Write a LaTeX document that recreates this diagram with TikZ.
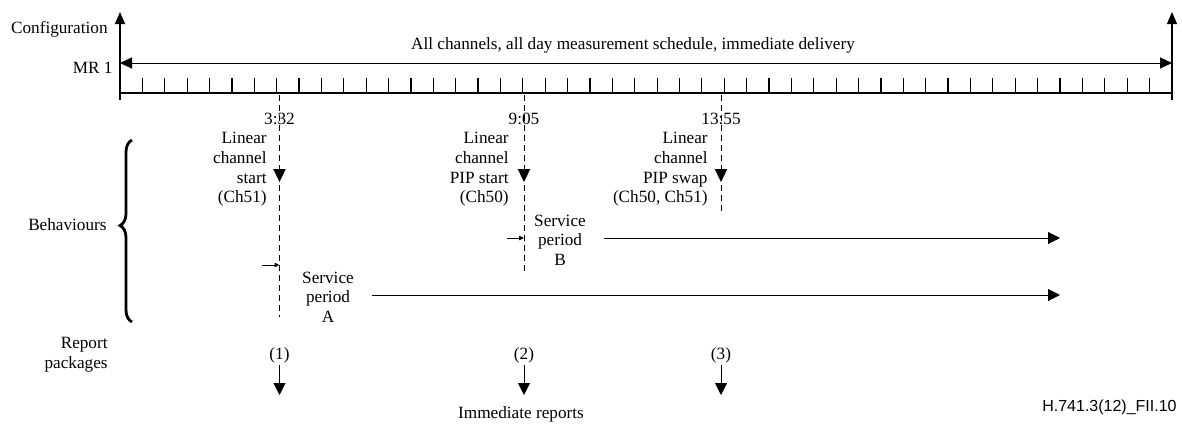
\documentclass[tikz,border=0pt]{standalone}
\usepackage{fontspec}
\setmainfont{Liberation Serif}
\newfontfamily\figfont{Liberation Sans}
\usetikzlibrary{arrows.meta,positioning,decorations.pathreplacing}

\begin{document}
\begin{tikzpicture}[
  x=0.5pt, y=-0.5pt,
  font=\fontsize{8.6}{9.8}\selectfont,
  every node/.style={inner sep=0pt},
  label/.style={align=right, anchor=east},
  evtlabel/.style={align=right, anchor=north east},
  period/.style={align=center},
  axis/.style={line width=0.6pt, -{Triangle[length=6pt,width=5pt]}},
  tickline/.style={line width=0.6pt},
  dblarrow/.style={line width=0.5pt, {Triangle[length=6pt,width=5.5pt]}-{Triangle[length=6pt,width=5.5pt]}},
  eventline/.style={line width=0.5pt, dash pattern=on 3pt off 2pt},
  longarrow/.style={line width=0.5pt, -{Triangle[length=6pt,width=6pt]}},
  startarrow/.style={line width=0.5pt, -{Triangle[length=2.5pt,width=2.2pt]}},
  reportarrow/.style={line width=0.5pt, -{Triangle[length=6pt,width=6pt]}},
  brace/.style={decorate, decoration={brace, amplitude=6pt, aspect=0.53}, line width=1.4pt}
]
\useasboundingbox (0,0) rectangle (1182,425);

\coordinate (axisL) at (120,100);
\coordinate (axisLtop) at (120,12);
\coordinate (axisR) at (1172,100);
\coordinate (axisRtop) at (1172,12);
\coordinate (rulerL) at (120,93);
\coordinate (rulerR) at (1172,93);
\coordinate (mrL) at (120,63);
\coordinate (mrR) at (1172,63);

\draw[axis] (axisL) -- (axisLtop);
\draw[axis] (axisR) -- (axisRtop);
\draw[tickline] (rulerL) -- (rulerR);
\foreach \k in {1,...,46}
  \draw[tickline] (120+\k*22.38,78) -- (120+\k*22.38,93);
\draw[dblarrow] (mrL) -- (mrR);

\node[label] (config) at (108,29) {Configuration};
\node[label] (mr) at (113,68) {MR 1};
\node (schedule) at (633,45) {All channels, all day measurement schedule, immediate delivery};
\node[label] (behav) at (107,225) {Behaviours};
\node[evtlabel] (reportlbl) at (108,337) {Report\\packages};

\coordinate (brB) at (132,322);
\coordinate (brT) at (132,140);
\draw[brace] (brB) -- (brT);

% events
\node (time1) at (279.5,119) {3:32};
\node (time2) at (524,119) {9:05};
\node (time3) at (721,119) {13:55};

\coordinate (e1top) at (279.5,95);
\coordinate (e1bot) at (279.5,317);
\coordinate (e2top) at (524,95);
\coordinate (e2bot) at (524,272);
\coordinate (e3top) at (721,95);
\coordinate (e3bot) at (721,212);
\draw[eventline] (e1top) -- (e1bot);
\draw[eventline] (e2top) -- (e2bot);
\draw[eventline] (e3top) -- (e3bot);

\foreach \x in {279.5,524,721}
  \fill (\x,182) -- ++(-6.3,-13) -- ++(12.6,0) -- cycle;

\node[evtlabel] (ev1) at (267,132) {Linear\\channel\\start\\(Ch51)};
\node[evtlabel] (ev2) at (509,132) {Linear\\channel\\PIP start\\(Ch50)};
\node[evtlabel] (ev3) at (708,132) {Linear\\channel\\PIP swap\\(Ch50, Ch51)};

% service periods
\node[period] (spA) at (328,297) {Service\\period\\A};
\node[period] (spB) at (560,240) {Service\\period\\B};

\coordinate (spAin) at (262,265);
\coordinate (spAstart) at (279.5,265);
\coordinate (spBin) at (507,238);
\coordinate (spBstart) at (524,238);
\coordinate (spAend) at (1060,295);
\coordinate (spBend) at (1060,238);

\draw[startarrow] (spAin) -- (spAstart);
\draw[startarrow] (spBin) -- (spBstart);
\draw[longarrow] (spA.east |- spAend) ++(18,0) coordinate (spAline) -- (spAend);
\draw[longarrow] (spB.east |- spBend) ++(18,0) coordinate (spBline) -- (spBend);

% reports
\node (rep1) at (279.5,355) {(1)};
\node (rep2) at (524,355) {(2)};
\node (rep3) at (721,355) {(3)};
\draw[reportarrow] (279.5,365) -- (279.5,395);
\draw[reportarrow] (524,365) -- (524,395);
\draw[reportarrow] (721,365) -- (721,395);

\node (immediate) at (521,414) {Immediate reports};
\node[anchor=east, font=\figfont\fontsize{8}{9.6}\selectfont] (figid) at (1177,407) {H.741.3(12)\_FII.10};

\end{tikzpicture}
\end{document}
